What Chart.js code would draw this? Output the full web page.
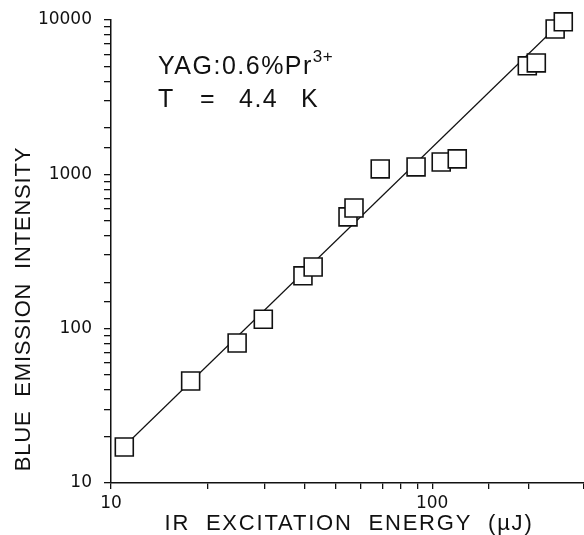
<!DOCTYPE html>
<html lang="en">
<head>
  <meta charset="UTF-8">
  <title>Blue emission vs IR excitation energy</title>
  <script src="https://cdn.jsdelivr.net/npm/chart.js"></script>
  <style>
    html, body {
      margin: 0;
      padding: 0;
      background: #fff;
    }
    .wrap {
      width: 584px;
      height: 535px;
      position: relative;
    }
  </style>
</head>
<body>
  <div class="wrap">
    <canvas id="plot" width="584" height="535"></canvas>
  </div>

  <script>
    // measured points (IR energy in uJ, blue emission intensity)
    const energy = [11, 17.7, 24.7, 29.8, 39.6, 42.6, 54.7, 57.1, 68.9, 89.1, 106.7, 119.7, 197.8, 211, 241.5, 256];
    const intensity = [17.1, 45.8, 80.7, 115, 220, 251, 530, 605, 1084, 1117, 1203, 1259, 5047, 5272, 8750, 9730];

    // fitted line (slope ~2 on log-log)
    const fitEnergy = [11, 241.5];
    const fitIntensity = [17.3, 8870];

    const xLabels = [10, 100];
    const yLabels = [10, 100, 1000, 10000];

    const sample = 'YAG:0.6%Pr';
    const sampleSup = '3+';
    const tempParts = ['T', '=', '4.4', 'K'];
    const xTitle = 'IR  EXCITATION  ENERGY  (\u00b5J)';
    const yTitle = 'BLUE  EMISSION  INTENSITY';

    const txtFont = '"Liberation Sans", Arial, sans-serif';

    const toPts = (xs, ys) => xs.map((x, i) => ({ x: x, y: ys[i] }));

    const labelsPlugin = {
      id: 'labels',
      afterDraw(chart) {
        const c = chart.ctx;
        c.save();
        c.fillStyle = '#111';
        c.textBaseline = 'alphabetic';
        c.textAlign = 'left';

        // annotation
        c.font = '25px ' + txtFont;
        c.letterSpacing = '1.5px';
        c.fillText(sample, 158, 74);
        const w = c.measureText(sample).width;
        c.font = '17px ' + txtFont;
        c.letterSpacing = '0.5px';
        c.fillText(sampleSup, 158 + w, 62);
        c.font = '25px ' + txtFont;
        c.letterSpacing = '1.5px';
        const tx = [158, 200, 239, 301];
        tempParts.forEach((t, i) => c.fillText(t, tx[i], 107));

        // axis titles
        c.font = '22px ' + txtFont;
        c.textAlign = 'center';
        c.letterSpacing = '1.8px';
        c.fillText(xTitle, 349, 530);

        c.letterSpacing = '0.8px';
        c.translate(30, 309);
        c.rotate(-Math.PI / 2);
        c.fillText(yTitle, 0, 0);
        c.restore();
      }
    };

    new Chart(document.getElementById('plot'), {
      type: 'scatter',
      data: {
        datasets: [
          {
            data: toPts(energy, intensity),
            pointStyle: 'rect',
            pointRadius: 12.7,
            pointBackgroundColor: '#fff',
            pointBorderColor: '#111',
            pointBorderWidth: 1.6,
            showLine: false,
            clip: false,
            order: 0
          },
          {
            data: toPts(fitEnergy, fitIntensity),
            showLine: true,
            borderColor: '#111',
            borderWidth: 1.2,
            pointRadius: 0,
            clip: false,
            order: 1
          }
        ]
      },
      options: {
        responsive: false,
        animation: false,
        events: [],
        layout: { autoPadding: false, padding: { top: 20, right: 0, left: 0, bottom: 0 } },
        plugins: {
          legend: { display: false },
          tooltip: { enabled: false }
        },
        scales: {
          x: {
            type: 'logarithmic',
            min: 10,
            max: 297,
            afterFit: s => { s.height = 52; s.paddingLeft = 0; s.paddingRight = 0; },
            border: { display: true, color: '#111', width: 1.5 },
            grid: { drawOnChartArea: false, drawTicks: true, tickLength: 6, color: '#111', lineWidth: 1.3 },
            ticks: {
              autoSkip: false,
              maxRotation: 0,
              padding: 4,
              color: '#111',
              font: { family: '"DejaVu Sans"', size: 17 },
              callback: v => xLabels.includes(v) ? String(v) : ''
            }
          },
          y: {
            type: 'logarithmic',
            min: 10,
            max: 10000,
            afterFit: s => { s.width = 111; s.paddingTop = 0; s.paddingBottom = 0; },
            border: { display: true, color: '#111', width: 1.5 },
            grid: { drawOnChartArea: false, drawTicks: true, tickLength: 7, color: '#111', lineWidth: 1.3 },
            ticks: {
              autoSkip: false,
              padding: 12,
              color: '#111',
              font: { family: '"DejaVu Sans"', size: 17 },
              callback: v => yLabels.includes(v) ? String(v) : ''
            }
          }
        }
      },
      plugins: [labelsPlugin]
    });
  </script>
</body>
</html>
